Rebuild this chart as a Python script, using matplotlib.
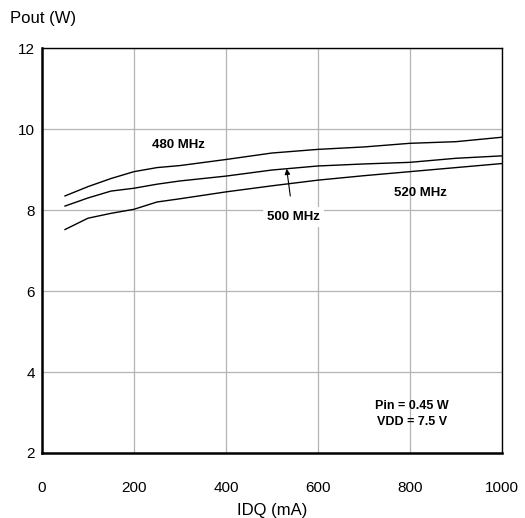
import matplotlib.pyplot as plt

plt.rcParams['font.family'] = ['Liberation Sans', 'DejaVu Sans']

idq = [50, 100, 150, 200, 250, 300, 400, 500, 600, 700, 800, 900, 1000]
p480 = [8.35, 8.58, 8.78, 8.95, 9.05, 9.10, 9.25, 9.41, 9.50, 9.56, 9.65, 9.69, 9.80]
p500 = [8.10, 8.30, 8.47, 8.54, 8.64, 8.72, 8.84, 8.99, 9.09, 9.14, 9.18, 9.28, 9.34]
p520 = [7.52, 7.80, 7.92, 8.02, 8.20, 8.28, 8.45, 8.60, 8.74, 8.85, 8.95, 9.05, 9.15]

xticks = [0, 200, 400, 600, 800, 1000]
yticks = [2, 4, 6, 8, 10, 12]

fig = plt.figure(figsize=(5.25, 5.18), dpi=100)
ax = fig.add_axes([0.08, 0.1255, 0.876, 0.7815])

ax.plot(idq, p480, color='black', lw=1)
ax.plot(idq, p500, color='black', lw=1)
ax.plot(idq, p520, color='black', lw=1)

ax.set_xlim(0, 1000)
ax.set_ylim(2, 12)
ax.set_xticks(xticks)
ax.set_yticks(yticks)
ax.grid(True, color='#b4b4b4', lw=0.9)
ax.tick_params(length=0, labelsize=11)
ax.tick_params(axis='x', pad=20)
ax.tick_params(axis='y', pad=5)
for s in ['left', 'bottom']:
    ax.spines[s].set_linewidth(1.8)
for s in ['top', 'right']:
    ax.spines[s].set_linewidth(1.0)

ax.text(296, 9.6, '480 MHz', fontsize=9.5, fontweight='bold', ha='center', va='center')
ax.text(822, 8.42, '520 MHz', fontsize=9.5, fontweight='bold', ha='center', va='center')
ax.annotate('500 MHz', xy=(532, 9.02), xytext=(546, 7.83), fontsize=9.5, fontweight='bold',
            ha='center', va='center',
            bbox=dict(boxstyle='square,pad=0.3', fc='white', ec='none'),
            arrowprops=dict(arrowstyle='-|>', color='black', lw=0.8, mutation_scale=8,
                            shrinkA=8, shrinkB=0))
ax.text(804, 2.96, 'Pin = 0.45 W\nVDD = 7.5 V', fontsize=9, fontweight='bold',
        ha='center', va='center', linespacing=1.5)

fig.text(10 / 525, 1 - 19 / 518, 'Pout (W)', fontsize=12, ha='left', va='center')
fig.text(272 / 525, 1 - 510 / 518, 'IDQ (mA)', fontsize=12, ha='center', va='center')

fig.savefig('out.png', dpi=100)
